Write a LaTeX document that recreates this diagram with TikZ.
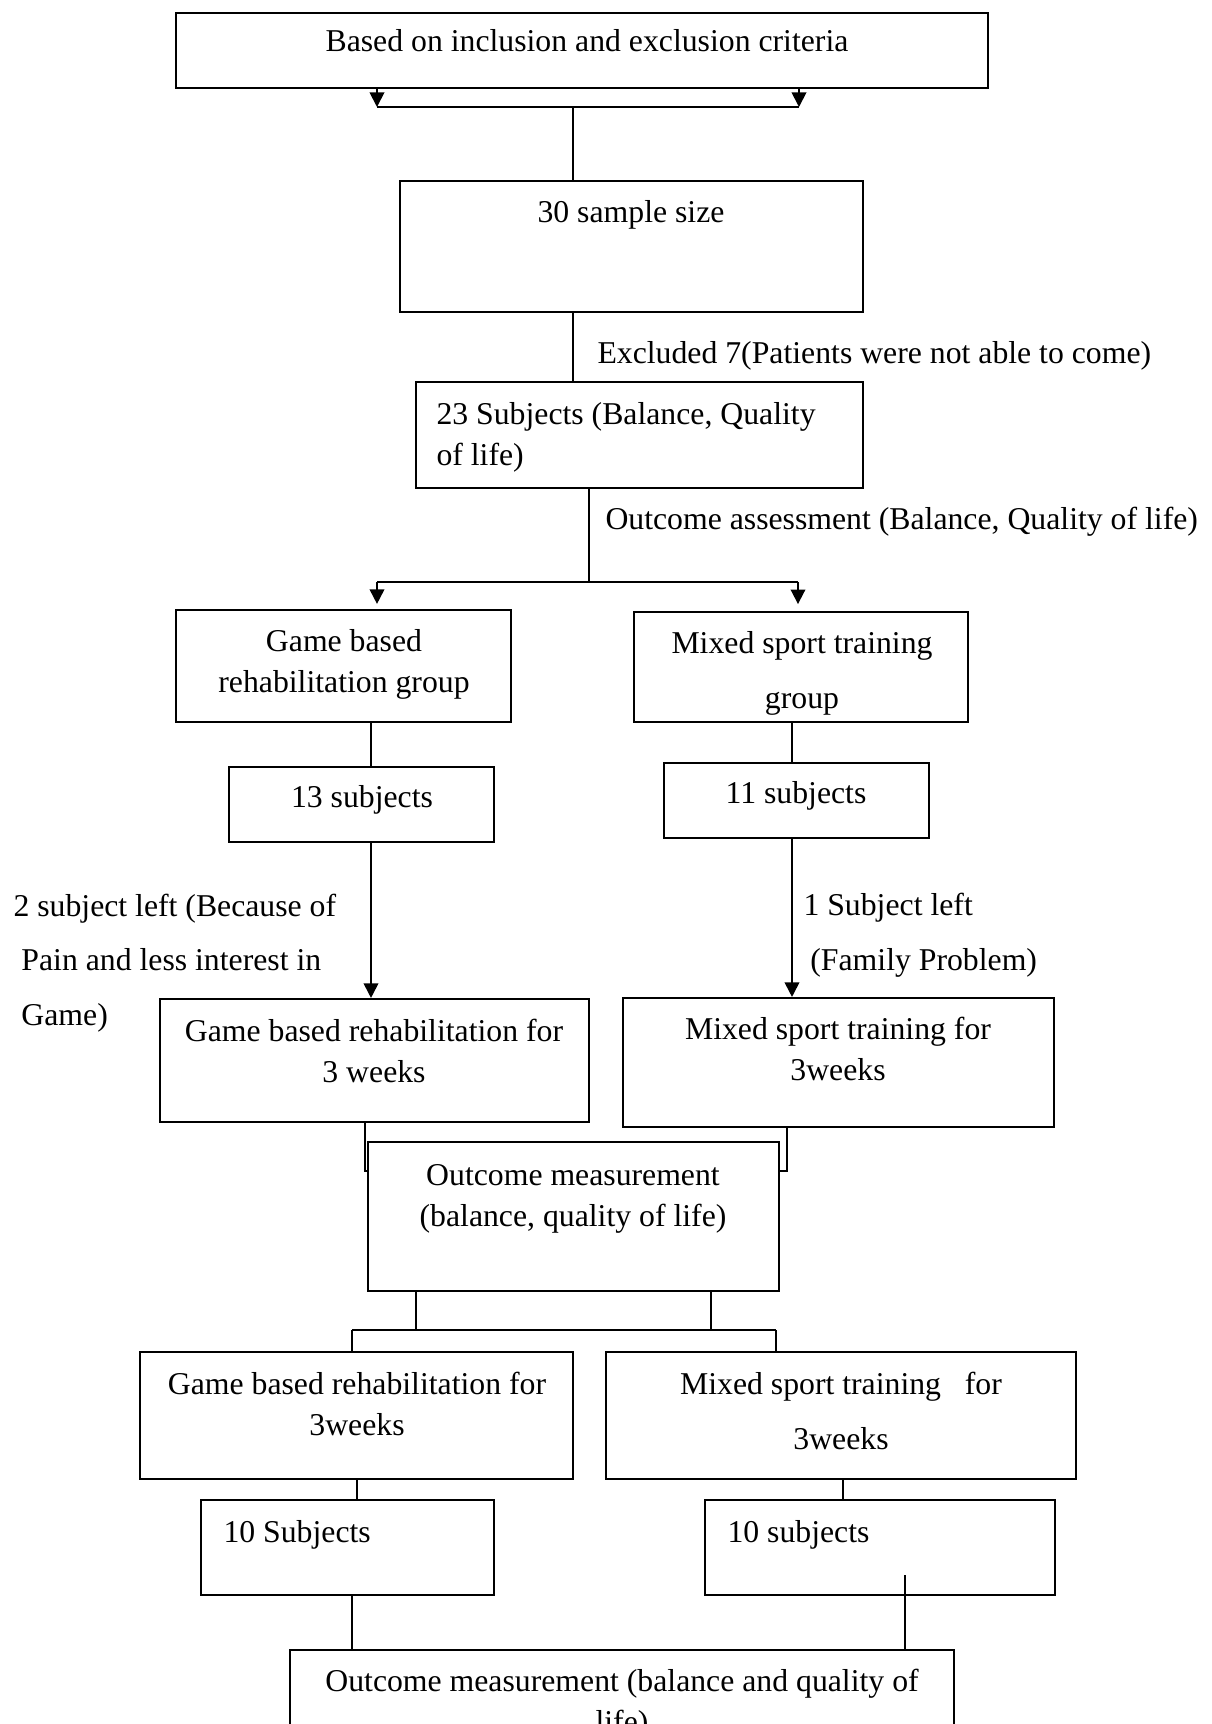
\documentclass[tikz,border=0pt]{standalone}
\usepackage{fontspec}
\setmainfont{Liberation Serif}
\usetikzlibrary{arrows.meta,fit}

\begin{document}
\begin{tikzpicture}[x=0.378pt,y=-0.378pt,
  box/.style={draw,line width=0.8pt,inner sep=0pt},
  txt/.style={inner sep=0pt,align=center,anchor=base,font=\fontsize{12}{15.5}\selectfont},
  wide/.style={font=\fontsize{12}{20.6}\selectfont},
  line/.style={line width=0.65pt},
  arr/.style={line width=0.7pt,-{Triangle[width=5.5pt,length=5.5pt]}}]
  \useasboundingbox (0,0) rectangle (1211,1724);
  \clip (0,0) rectangle (1211,1724);

  % boxes
  \node[box,fit={(176,13) (988,88)}] (crit) {};
  \node[box,fit={(400,181) (863,312)}] (sample) {};
  \node[box,fit={(416,382) (863,488)}] (sub23) {};
  \node[box,fit={(176,610) (511,722)}] (gamegrp) {};
  \node[box,fit={(634,612) (968,722)}] (mixgrp) {};
  \node[box,fit={(229,767) (494,842)}] (sub13) {};
  \node[box,fit={(664,763) (929,838)}] (sub11) {};
  \node[box,fit={(160,999) (589,1122)}] (game3) {};
  \node[box,fit={(623,998) (1054,1127)}] (mix3) {};
  \node[box,fit={(368,1142) (779,1291)}] (outcome) {};
  \node[box,fit={(140,1352) (573,1479)}] (game3b) {};
  \node[box,fit={(606,1352) (1076,1479)}] (mix3b) {};
  \node[box,fit={(201,1500) (494,1595)}] (sub10a) {};
  \node[box,fit={(705,1500) (1055,1595)}] (sub10b) {};
  \node[box,fit={(290,1650) (954,1780)}] (final) {};

  % box texts (base = last line)
  \node[txt] (crit-t) at (587,51) {Based on inclusion and exclusion criteria};
  \node[txt] (sample-t) at (631,222) {30 sample size};
  \node[txt,anchor=base west,align=left] (sub23-t) at (436,465) {23 Subjects (Balance, Quality\\of life)};
  \node[txt] (gamegrp-t) at (344,692) {Game based\\rehabilitation group};
  \node[txt,wide] (mixgrp-t) at (802,708) {Mixed sport training\\group};
  \node[txt] (sub13-t) at (362,807) {13 subjects};
  \node[txt] (sub11-t) at (796,803) {11 subjects};
  \node[txt] (game3-t) at (374,1082) {Game based rehabilitation for\\3 weeks};
  \node[txt] (mix3-t) at (838,1080) {Mixed sport training for\\3weeks};
  \node[txt] (outcome-t) at (573,1226) {Outcome measurement\\(balance, quality of life)};
  \node[txt] (game3b-t) at (357,1435) {Game based rehabilitation for\\3weeks};
  \node[txt,wide] (mix3b-t) at (841,1449) {Mixed sport training\ \ \ for\\3weeks};
  \node[txt,anchor=base west] (sub10a-t) at (223,1542) {10 Subjects};
  \node[txt,anchor=base west] (sub10b-t) at (727,1542) {10 subjects};
  \node[txt] (final-t) at (622,1732) {Outcome measurement (balance and quality of\\life)};

  % side notes
  \node[txt,anchor=base west] (excl) at (597,363) {Excluded 7(Patients were not able to come)};
  \node[txt,anchor=base west] (assess) at (605,529) {Outcome assessment (Balance, Quality of life)};
  \node[txt,wide,anchor=base west,align=left] (leftl) at (13,1025)
    {2 subject left (Because of\\\hspace*{3pt}Pain and less interest in\\\hspace*{3pt}Game)};
  \node[txt,wide,anchor=base west,align=left] (leftr) at (803,970)
    {1 Subject left\\\hspace*{2.6pt}(Family Problem)};

  % junction points
  \coordinate (j0) at (573,107);
  \coordinate (jl0) at (377,107);
  \coordinate (jr0) at (799,107);
  \coordinate (j1) at (589,582);
  \coordinate (jl1) at (377,582);
  \coordinate (jr1) at (798,582);
  \coordinate (cl) at (371,0);
  \coordinate (cr) at (792,0);
  \coordinate (sl) at (365,0);
  \coordinate (sr) at (787,0);
  \coordinate (so) at (0,1171);
  \coordinate (ol) at (416,1330);
  \coordinate (or) at (711,1330);
  \coordinate (bl) at (352,1330);
  \coordinate (br) at (776,1330);
  \coordinate (dl) at (357,0);
  \coordinate (dr) at (843,0);
  \coordinate (el) at (352,0);
  \coordinate (er) at (905,1575);

  % connectors
  \draw[arr] (crit.south -| jl0) -- (jl0);
  \draw[arr] (crit.south -| jr0) -- (jr0);
  \draw[line] (jl0) -- (jr0);
  \draw[line] (j0) -- (sample.north -| j0);
  \draw[line] (sample.south -| j0) -- (sub23.north -| j0);
  \draw[line] (sub23.south -| j1) -- (j1);
  \draw[line] (jl1) -- (jr1);
  \draw[arr,shorten >=1.9pt] (jl1) -- (gamegrp.north -| jl1);
  \draw[arr,shorten >=2.6pt] (jr1) -- (mixgrp.north -| jr1);
  \draw[line] (gamegrp.south -| cl) -- (sub13.north -| cl);
  \draw[line] (mixgrp.south -| cr) -- (sub11.north -| cr);
  \draw[arr] (sub13.south -| cl) -- (game3.north -| cl);
  \draw[arr] (sub11.south -| cr) -- (mix3.north -| cr);
  \draw[line] (game3.south -| sl) |- (outcome.west |- so);
  \draw[line] (mix3.south -| sr) |- (outcome.east |- so);
  \draw[line] (outcome.south -| ol) -- (ol);
  \draw[line] (outcome.south -| or) -- (or);
  \draw[line] (bl) -- (br);
  \draw[line] (bl) -- (game3b.north -| bl);
  \draw[line] (br) -- (mix3b.north -| br);
  \draw[line] (game3b.south -| dl) -- (sub10a.north -| dl);
  \draw[line] (mix3b.south -| dr) -- (sub10b.north -| dr);
  \draw[line] (sub10a.south -| el) -- (final.north -| el);
  \draw[line] (er) -- (final.north -| er);
\end{tikzpicture}
\end{document}
